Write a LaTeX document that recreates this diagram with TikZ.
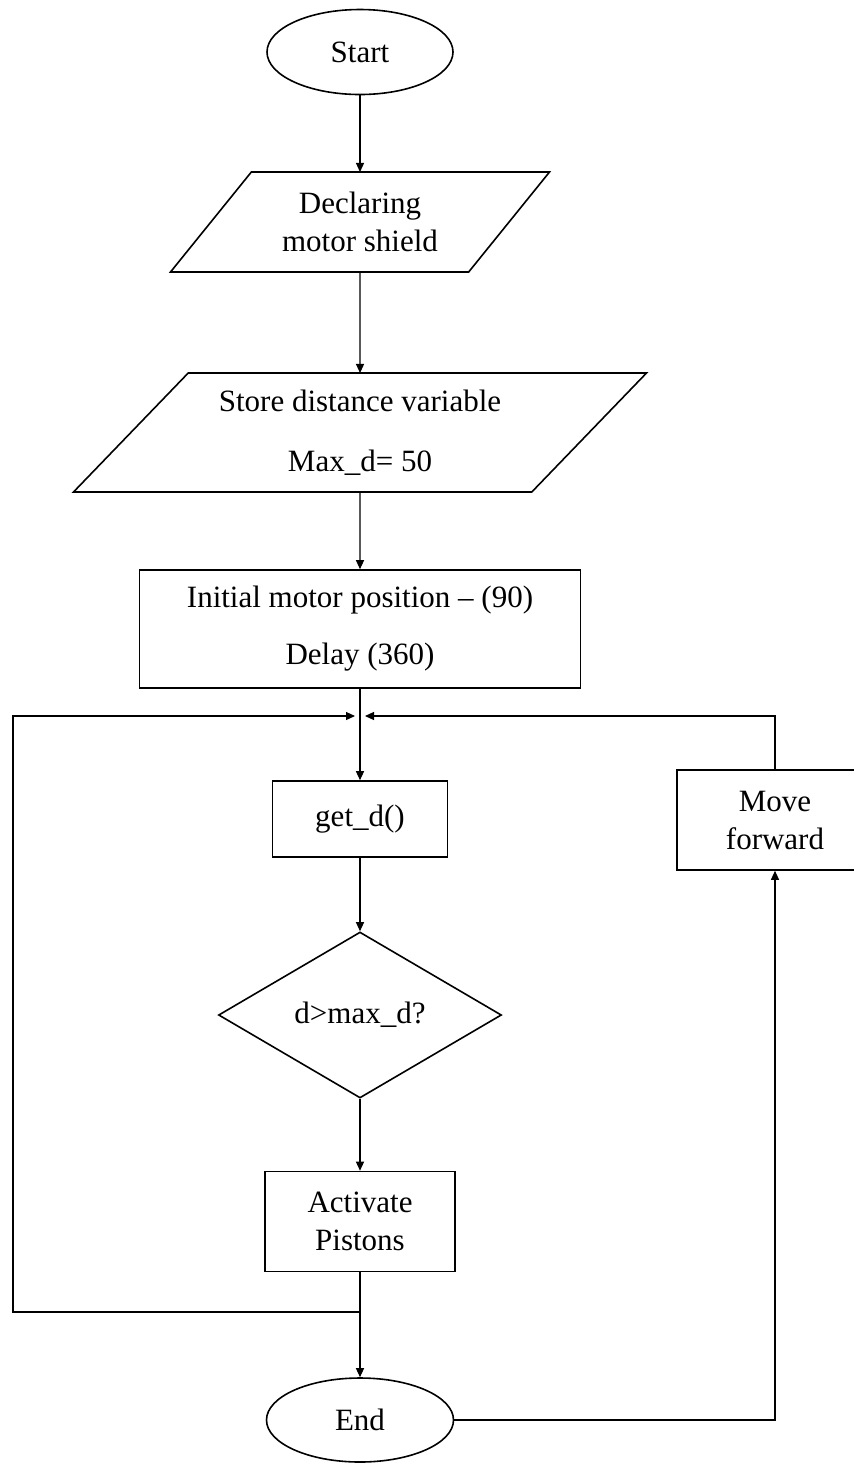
\documentclass[tikz,border=0pt]{standalone}
\usepackage{fontspec}
\setmainfont{Liberation Serif}
\usetikzlibrary{arrows.meta,shapes.geometric,positioning}
\tikzset{
  terminal/.style={ellipse, draw, line width=0.8pt, inner sep=0pt,
    minimum width=93pt, minimum height=42.5pt},
  io/.style={trapezium, draw, line width=0.8pt, inner sep=0pt, outer sep=0pt,
    trapezium stretches body, align=center},
  process/.style={rectangle, draw, line width=0.8pt, inner sep=0pt, align=center},
  decision/.style={diamond, draw, line width=0.8pt, inner sep=0pt,
    minimum width=141.5pt, minimum height=83pt},
  flow/.style={-{Triangle[length=4.5pt, width=4pt]}, line width=0.6pt},
}

\begin{document}
\begin{tikzpicture}[x=0.5pt, y=-0.5pt, font=\fontsize{15.5}{19}\selectfont]
  \useasboundingbox (0,0) rectangle (854,1464);

  % Main column
  \node[terminal] (start) at (360,52) {Start};
  \node[io, trapezium left angle=36.5, trapezium right angle=143.5,
    minimum width=189.5pt, minimum height=50pt] (decl) at (360,222)
    {Declaring\\motor shield};
  \node[io, trapezium left angle=36.7, trapezium right angle=143.3,
    minimum width=286.5pt, minimum height=59.5pt] (store) at (360,432.5)
    {Store distance variable\\[11pt]Max\_d= 50};
  \node[process, minimum width=220.5pt, minimum height=59pt] (init) at (360,629)
    {Initial motor position -- (90)\\[9.5pt]Delay (360)};
  \node[process, minimum width=87.5pt, minimum height=38pt] (getd) at (360,819)
    {get\_d()};
  \node[decision] (check) at (360,1015) {d>max\_d?};
  \node[process, minimum width=95pt, minimum height=50pt] (act) at (360,1221.5)
    {Activate\\Pistons};
  \node[terminal, minimum width=93.5pt, minimum height=42pt] (stop) at (360,1420) {End};

  % Side box
  \node[process, minimum width=98pt, minimum height=50pt] (fwd) at (775,820)
    {Move\\forward};

  % Junctions of the loops
  \coordinate (join) at (360,716);
  \coordinate (split) at (360,1312);

  % Arrows down the column
  \draw[flow] (start) -- (decl);
  \draw[flow] (decl) -- (store);
  \draw[flow] (store) -- (init);
  \draw[flow] (init) -- (getd);
  \draw[flow] (getd) -- (check);
  \draw[flow] (check) -- (act);
  \draw[flow] (act) -- (stop);

  % Loops back to the top
  \draw[flow, shorten >=2.5pt] (split) -- ++(-347,0) |- (join);
  \draw[flow] (stop.east) -| (fwd.south);
  \draw[flow, shorten >=2.5pt] (fwd.north) |- (join);
\end{tikzpicture}
\end{document}
